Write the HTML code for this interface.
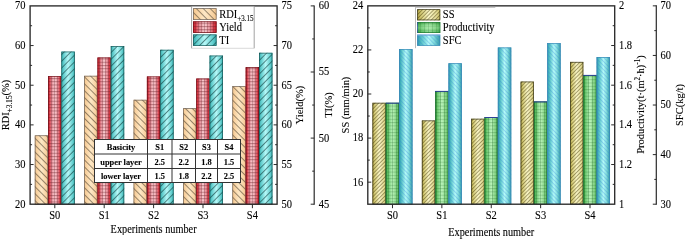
<!DOCTYPE html>
<html><head><meta charset="utf-8"><style>
html,body{margin:0;padding:0;background:#fff;width:685px;height:240px;overflow:hidden;}
svg{will-change:transform;display:block;font-family:"Liberation Serif",serif;}
text{stroke:#000;stroke-width:0.1px;}
</style></head><body>
<svg xmlns="http://www.w3.org/2000/svg" width="685" height="240" viewBox="0 0 685 240" font-family='"Liberation Serif", serif' fill="#000">
<defs>
 <linearGradient id="gO" x1="0" x2="1" y1="0" y2="0">
  <stop offset="0" stop-color="#f4c48a"/><stop offset="0.2" stop-color="#f9d4a4"/><stop offset="0.5" stop-color="#fde8c6"/><stop offset="0.8" stop-color="#f9d6a8"/><stop offset="1" stop-color="#f4c48a"/>
 </linearGradient>
 <linearGradient id="gR" x1="0" x2="1" y1="0" y2="0">
  <stop offset="0" stop-color="#cc1e2a"/><stop offset="0.1" stop-color="#da3844"/><stop offset="0.26" stop-color="#e8909a"/><stop offset="0.5" stop-color="#f8ccd0"/><stop offset="0.74" stop-color="#e8909a"/><stop offset="0.9" stop-color="#da3844"/><stop offset="1" stop-color="#cc1e2a"/>
 </linearGradient>
 <linearGradient id="gC" x1="0" x2="1" y1="0" y2="0">
  <stop offset="0" stop-color="#30a8a8"/><stop offset="0.15" stop-color="#5ccaca"/><stop offset="0.5" stop-color="#b6f8f8"/><stop offset="0.85" stop-color="#62cece"/><stop offset="1" stop-color="#30a8a8"/>
 </linearGradient>
 <linearGradient id="gY" x1="0" x2="1" y1="0" y2="0">
  <stop offset="0" stop-color="#a89a38"/><stop offset="0.15" stop-color="#d2c872"/><stop offset="0.5" stop-color="#f8f4c6"/><stop offset="0.85" stop-color="#e2da94"/><stop offset="1" stop-color="#c4b85c"/>
 </linearGradient>
 <linearGradient id="gG" x1="0" x2="1" y1="0" y2="0">
  <stop offset="0" stop-color="#24962e"/><stop offset="0.16" stop-color="#6cc870"/><stop offset="0.5" stop-color="#bcf4bc"/><stop offset="0.84" stop-color="#80d080"/><stop offset="1" stop-color="#3aa048"/>
 </linearGradient>
 <linearGradient id="gB" x1="0" x2="1" y1="0" y2="0">
  <stop offset="0" stop-color="#2a8aac"/><stop offset="0.1" stop-color="#40b0b8"/><stop offset="0.3" stop-color="#78d8d8"/><stop offset="0.5" stop-color="#b4fafa"/><stop offset="0.72" stop-color="#86dede"/><stop offset="0.9" stop-color="#4cb0b8"/><stop offset="1" stop-color="#3898aa"/>
 </linearGradient>
 <linearGradient id="gGv" x1="0" x2="0" y1="0" y2="1">
  <stop offset="0" stop-color="#1c8e2a"/><stop offset="0.5" stop-color="#a8eca8"/><stop offset="1" stop-color="#1c8e2a"/>
 </linearGradient>
 <pattern id="hO" patternUnits="userSpaceOnUse" width="4.9" height="10" patternTransform="rotate(-45)">
  <rect x="0" y="0" width="0.7" height="10" fill="#4a3c2c" fill-opacity="0.8"/>
 </pattern>
 <pattern id="hC" patternUnits="userSpaceOnUse" width="4.8" height="10" patternTransform="rotate(45)">
  <rect x="0" y="0" width="0.7" height="10" fill="#0c3434" fill-opacity="0.8"/>
 </pattern>
 <pattern id="hR" patternUnits="userSpaceOnUse" width="3" height="3.25">
  <rect x="0" y="0" width="0.9" height="3.25" fill="#702028" fill-opacity="0.34"/>
  <rect x="0" y="0" width="3" height="1" fill="#702028" fill-opacity="0.44"/>
 </pattern>
 <pattern id="hY" patternUnits="userSpaceOnUse" width="2.7" height="10" patternTransform="rotate(45)">
  <rect x="0" y="0" width="0.7" height="10" fill="#3a3000" fill-opacity="0.58"/>
 </pattern>
 <pattern id="hG" patternUnits="userSpaceOnUse" width="4" height="3.3">
  <rect x="0" y="0" width="1" height="3.3" fill="#0c5814" fill-opacity="0.26"/>
  <rect x="0" y="0" width="4" height="1" fill="#0c5814" fill-opacity="0.22"/>
 </pattern>
 <pattern id="hB" patternUnits="userSpaceOnUse" width="2.9" height="10" patternTransform="rotate(-45)">
  <rect x="0" y="0" width="0.75" height="10" fill="#3080d8" fill-opacity="0.4"/>
 </pattern>
</defs>
<rect x="34.80" y="135.40" width="13.30" height="68.80" fill="url(#gO)"/><rect x="34.80" y="135.40" width="13.30" height="68.80" fill="url(#hO)"/><rect x="35.15" y="135.75" width="12.60" height="68.45" fill="none" stroke="#6a6058" stroke-width="0.7"/>
<rect x="48.10" y="76.20" width="13.30" height="128.00" fill="url(#gR)"/><rect x="48.10" y="76.20" width="13.30" height="128.00" fill="url(#hR)"/><rect x="48.45" y="76.55" width="12.60" height="127.65" fill="none" stroke="#701018" stroke-width="0.7"/>
<rect x="61.40" y="51.60" width="13.40" height="152.60" fill="url(#gC)"/><rect x="61.40" y="51.60" width="13.40" height="152.60" fill="url(#hC)"/><rect x="61.75" y="51.95" width="12.70" height="152.25" fill="none" stroke="#1a5a5a" stroke-width="0.7"/>
<rect x="84.20" y="75.80" width="13.30" height="128.40" fill="url(#gO)"/><rect x="84.20" y="75.80" width="13.30" height="128.40" fill="url(#hO)"/><rect x="84.55" y="76.15" width="12.60" height="128.05" fill="none" stroke="#6a6058" stroke-width="0.7"/>
<rect x="97.50" y="57.50" width="13.30" height="146.70" fill="url(#gR)"/><rect x="97.50" y="57.50" width="13.30" height="146.70" fill="url(#hR)"/><rect x="97.85" y="57.85" width="12.60" height="146.35" fill="none" stroke="#701018" stroke-width="0.7"/>
<rect x="110.80" y="46.10" width="13.40" height="158.10" fill="url(#gC)"/><rect x="110.80" y="46.10" width="13.40" height="158.10" fill="url(#hC)"/><rect x="111.15" y="46.45" width="12.70" height="157.75" fill="none" stroke="#1a5a5a" stroke-width="0.7"/>
<rect x="133.60" y="99.80" width="13.30" height="104.40" fill="url(#gO)"/><rect x="133.60" y="99.80" width="13.30" height="104.40" fill="url(#hO)"/><rect x="133.95" y="100.15" width="12.60" height="104.05" fill="none" stroke="#6a6058" stroke-width="0.7"/>
<rect x="146.90" y="76.50" width="13.30" height="127.70" fill="url(#gR)"/><rect x="146.90" y="76.50" width="13.30" height="127.70" fill="url(#hR)"/><rect x="147.25" y="76.85" width="12.60" height="127.35" fill="none" stroke="#701018" stroke-width="0.7"/>
<rect x="160.20" y="49.80" width="13.40" height="154.40" fill="url(#gC)"/><rect x="160.20" y="49.80" width="13.40" height="154.40" fill="url(#hC)"/><rect x="160.55" y="50.15" width="12.70" height="154.05" fill="none" stroke="#1a5a5a" stroke-width="0.7"/>
<rect x="183.00" y="108.30" width="13.30" height="95.90" fill="url(#gO)"/><rect x="183.00" y="108.30" width="13.30" height="95.90" fill="url(#hO)"/><rect x="183.35" y="108.65" width="12.60" height="95.55" fill="none" stroke="#6a6058" stroke-width="0.7"/>
<rect x="196.30" y="78.60" width="13.30" height="125.60" fill="url(#gR)"/><rect x="196.30" y="78.60" width="13.30" height="125.60" fill="url(#hR)"/><rect x="196.65" y="78.95" width="12.60" height="125.25" fill="none" stroke="#701018" stroke-width="0.7"/>
<rect x="209.60" y="55.60" width="13.40" height="148.60" fill="url(#gC)"/><rect x="209.60" y="55.60" width="13.40" height="148.60" fill="url(#hC)"/><rect x="209.95" y="55.95" width="12.70" height="148.25" fill="none" stroke="#1a5a5a" stroke-width="0.7"/>
<rect x="232.40" y="86.20" width="13.30" height="118.00" fill="url(#gO)"/><rect x="232.40" y="86.20" width="13.30" height="118.00" fill="url(#hO)"/><rect x="232.75" y="86.55" width="12.60" height="117.65" fill="none" stroke="#6a6058" stroke-width="0.7"/>
<rect x="245.70" y="67.20" width="13.30" height="137.00" fill="url(#gR)"/><rect x="245.70" y="67.20" width="13.30" height="137.00" fill="url(#hR)"/><rect x="246.05" y="67.55" width="12.60" height="136.65" fill="none" stroke="#701018" stroke-width="0.7"/>
<rect x="259.00" y="52.80" width="13.40" height="151.40" fill="url(#gC)"/><rect x="259.00" y="52.80" width="13.40" height="151.40" fill="url(#hC)"/><rect x="259.35" y="53.15" width="12.70" height="151.05" fill="none" stroke="#1a5a5a" stroke-width="0.7"/>
<rect x="94.5" y="139.5" width="146.0" height="43.0" fill="#fff" stroke="#333" stroke-width="1"/>
<line x1="147.5" y1="139.5" x2="147.5" y2="182.5" stroke="#333" stroke-width="1"/>
<line x1="172.0" y1="139.5" x2="172.0" y2="182.5" stroke="#333" stroke-width="1"/>
<line x1="195.5" y1="139.5" x2="195.5" y2="182.5" stroke="#333" stroke-width="1"/>
<line x1="217.5" y1="139.5" x2="217.5" y2="182.5" stroke="#333" stroke-width="1"/>
<line x1="94.5" y1="154.0" x2="240.5" y2="154.0" stroke="#333" stroke-width="1"/>
<line x1="94.5" y1="168.5" x2="240.5" y2="168.5" stroke="#333" stroke-width="1"/>
<text transform="translate(121.00,150.25) scale(1,1.0)" font-size="8.4" text-anchor="middle" font-weight="bold" >Basicity</text>
<text transform="translate(159.75,150.25) scale(1,1.0)" font-size="8.4" text-anchor="middle" font-weight="bold" >S1</text>
<text transform="translate(183.75,150.25) scale(1,1.0)" font-size="8.4" text-anchor="middle" font-weight="bold" >S2</text>
<text transform="translate(206.50,150.25) scale(1,1.0)" font-size="8.4" text-anchor="middle" font-weight="bold" >S3</text>
<text transform="translate(229.00,150.25) scale(1,1.0)" font-size="8.4" text-anchor="middle" font-weight="bold" >S4</text>
<text transform="translate(121.00,164.75) scale(1,1.0)" font-size="8.4" text-anchor="middle" font-weight="bold" >upper layer</text>
<text transform="translate(159.75,164.75) scale(1,1.0)" font-size="8.4" text-anchor="middle" font-weight="bold" >2.5</text>
<text transform="translate(183.75,164.75) scale(1,1.0)" font-size="8.4" text-anchor="middle" font-weight="bold" >2.2</text>
<text transform="translate(206.50,164.75) scale(1,1.0)" font-size="8.4" text-anchor="middle" font-weight="bold" >1.8</text>
<text transform="translate(229.00,164.75) scale(1,1.0)" font-size="8.4" text-anchor="middle" font-weight="bold" >1.5</text>
<text transform="translate(121.00,179.00) scale(1,1.0)" font-size="8.4" text-anchor="middle" font-weight="bold" >lower layer</text>
<text transform="translate(159.75,179.00) scale(1,1.0)" font-size="8.4" text-anchor="middle" font-weight="bold" >1.5</text>
<text transform="translate(183.75,179.00) scale(1,1.0)" font-size="8.4" text-anchor="middle" font-weight="bold" >1.8</text>
<text transform="translate(206.50,179.00) scale(1,1.0)" font-size="8.4" text-anchor="middle" font-weight="bold" >2.2</text>
<text transform="translate(229.00,179.00) scale(1,1.0)" font-size="8.4" text-anchor="middle" font-weight="bold" >2.5</text>
<rect x="30.1" y="5.9" width="247.00000000000003" height="198.29999999999998" fill="none" stroke="#2a2a2a" stroke-width="1.35"/>
<rect x="191.5" y="6.65" width="62.8" height="41.65" fill="#fff"/>
<path d="M191.6 6.65 V48.3 M254.2 48.3 V6.65" fill="none" stroke="#8a8a8a" stroke-width="0.8"/>
<line x1="191.6" y1="48.3" x2="254.2" y2="48.3" stroke="#d0d0d0" stroke-width="0.8"/>
<rect x="193" y="8.3" width="23.5" height="11.4" fill="url(#gO)"/>
<rect x="193" y="8.3" width="23.5" height="11.4" fill="url(#hO)"/>
<rect x="193.35" y="8.65" width="22.8" height="10.7" fill="none" stroke="#6a6058" stroke-width="0.7"/>
<text transform="translate(219.30,17.60) scale(1,1.12)" font-size="10.5" text-anchor="start" font-weight="normal" >RDI<tspan font-size="7" dy="2.6">+3.15</tspan></text>
<rect x="193" y="21.4" width="23.5" height="11.4" fill="url(#gR)"/>
<rect x="193" y="21.4" width="23.5" height="11.4" fill="url(#hR)"/>
<rect x="193.35" y="21.75" width="22.8" height="10.7" fill="none" stroke="#701018" stroke-width="0.7"/>
<text transform="translate(219.30,30.70) scale(1,1.12)" font-size="10.5" text-anchor="start" font-weight="normal" >Yield</text>
<rect x="193" y="34.5" width="23.5" height="11.4" fill="url(#gC)"/>
<rect x="193" y="34.5" width="23.5" height="11.4" fill="url(#hC)"/>
<rect x="193.35" y="34.85" width="22.8" height="10.7" fill="none" stroke="#1a5a5a" stroke-width="0.7"/>
<text transform="translate(219.30,43.80) scale(1,1.12)" font-size="10.5" text-anchor="start" font-weight="normal" >TI</text>
<text transform="translate(25.60,207.60) scale(1,1.12)" font-size="10.5" text-anchor="end" font-weight="normal" >20</text>
<line x1="30.1" y1="184.37" x2="32.1" y2="184.37" stroke="#2a2a2a" stroke-width="1"/>
<line x1="30.1" y1="164.54" x2="33.6" y2="164.54" stroke="#2a2a2a" stroke-width="1"/>
<text transform="translate(25.60,167.94) scale(1,1.12)" font-size="10.5" text-anchor="end" font-weight="normal" >30</text>
<line x1="30.1" y1="144.71" x2="32.1" y2="144.71" stroke="#2a2a2a" stroke-width="1"/>
<line x1="30.1" y1="124.88" x2="33.6" y2="124.88" stroke="#2a2a2a" stroke-width="1"/>
<text transform="translate(25.60,128.28) scale(1,1.12)" font-size="10.5" text-anchor="end" font-weight="normal" >40</text>
<line x1="30.1" y1="105.05" x2="32.1" y2="105.05" stroke="#2a2a2a" stroke-width="1"/>
<line x1="30.1" y1="85.22" x2="33.6" y2="85.22" stroke="#2a2a2a" stroke-width="1"/>
<text transform="translate(25.60,88.62) scale(1,1.12)" font-size="10.5" text-anchor="end" font-weight="normal" >50</text>
<line x1="30.1" y1="65.39" x2="32.1" y2="65.39" stroke="#2a2a2a" stroke-width="1"/>
<line x1="30.1" y1="45.56" x2="33.6" y2="45.56" stroke="#2a2a2a" stroke-width="1"/>
<text transform="translate(25.60,48.96) scale(1,1.12)" font-size="10.5" text-anchor="end" font-weight="normal" >60</text>
<line x1="30.1" y1="25.73" x2="32.1" y2="25.73" stroke="#2a2a2a" stroke-width="1"/>
<text transform="translate(25.60,9.30) scale(1,1.12)" font-size="10.5" text-anchor="end" font-weight="normal" >70</text>
<text transform="translate(281.40,207.60) scale(1,1.12)" font-size="10.5" text-anchor="start" font-weight="normal" >50</text>
<line x1="275.1" y1="184.37" x2="277.1" y2="184.37" stroke="#2a2a2a" stroke-width="1"/>
<line x1="273.6" y1="164.54" x2="277.1" y2="164.54" stroke="#2a2a2a" stroke-width="1"/>
<text transform="translate(281.40,167.94) scale(1,1.12)" font-size="10.5" text-anchor="start" font-weight="normal" >55</text>
<line x1="275.1" y1="144.71" x2="277.1" y2="144.71" stroke="#2a2a2a" stroke-width="1"/>
<line x1="273.6" y1="124.88" x2="277.1" y2="124.88" stroke="#2a2a2a" stroke-width="1"/>
<text transform="translate(281.40,128.28) scale(1,1.12)" font-size="10.5" text-anchor="start" font-weight="normal" >60</text>
<line x1="275.1" y1="105.05" x2="277.1" y2="105.05" stroke="#2a2a2a" stroke-width="1"/>
<line x1="273.6" y1="85.22" x2="277.1" y2="85.22" stroke="#2a2a2a" stroke-width="1"/>
<text transform="translate(281.40,88.62) scale(1,1.12)" font-size="10.5" text-anchor="start" font-weight="normal" >65</text>
<line x1="275.1" y1="65.39" x2="277.1" y2="65.39" stroke="#2a2a2a" stroke-width="1"/>
<line x1="273.6" y1="45.56" x2="277.1" y2="45.56" stroke="#2a2a2a" stroke-width="1"/>
<text transform="translate(281.40,48.96) scale(1,1.12)" font-size="10.5" text-anchor="start" font-weight="normal" >70</text>
<line x1="275.1" y1="25.73" x2="277.1" y2="25.73" stroke="#2a2a2a" stroke-width="1"/>
<text transform="translate(281.40,9.30) scale(1,1.12)" font-size="10.5" text-anchor="start" font-weight="normal" >75</text>
<line x1="314.2" y1="5.4" x2="314.2" y2="204.7" stroke="#2a2a2a" stroke-width="1.2"/>
<line x1="310.7" y1="204.20" x2="314.2" y2="204.20" stroke="#2a2a2a" stroke-width="1"/>
<text transform="translate(318.80,207.60) scale(1,1.12)" font-size="10.5" text-anchor="start" font-weight="normal" >45</text>
<line x1="312.2" y1="171.15" x2="314.2" y2="171.15" stroke="#2a2a2a" stroke-width="1"/>
<line x1="310.7" y1="138.10" x2="314.2" y2="138.10" stroke="#2a2a2a" stroke-width="1"/>
<text transform="translate(318.80,141.50) scale(1,1.12)" font-size="10.5" text-anchor="start" font-weight="normal" >50</text>
<line x1="312.2" y1="105.05" x2="314.2" y2="105.05" stroke="#2a2a2a" stroke-width="1"/>
<line x1="310.7" y1="72.00" x2="314.2" y2="72.00" stroke="#2a2a2a" stroke-width="1"/>
<text transform="translate(318.80,75.40) scale(1,1.12)" font-size="10.5" text-anchor="start" font-weight="normal" >55</text>
<line x1="312.2" y1="38.95" x2="314.2" y2="38.95" stroke="#2a2a2a" stroke-width="1"/>
<line x1="310.7" y1="5.90" x2="314.2" y2="5.90" stroke="#2a2a2a" stroke-width="1"/>
<text transform="translate(318.80,9.30) scale(1,1.12)" font-size="10.5" text-anchor="start" font-weight="normal" >60</text>
<line x1="54.80" y1="204.2" x2="54.80" y2="208.2" stroke="#2a2a2a" stroke-width="1"/>
<text transform="translate(54.80,219.40) scale(1,1.12)" font-size="10.5" text-anchor="middle" font-weight="normal" >S0</text>
<line x1="104.20" y1="204.2" x2="104.20" y2="208.2" stroke="#2a2a2a" stroke-width="1"/>
<text transform="translate(104.20,219.40) scale(1,1.12)" font-size="10.5" text-anchor="middle" font-weight="normal" >S1</text>
<line x1="153.60" y1="204.2" x2="153.60" y2="208.2" stroke="#2a2a2a" stroke-width="1"/>
<text transform="translate(153.60,219.40) scale(1,1.12)" font-size="10.5" text-anchor="middle" font-weight="normal" >S2</text>
<line x1="203.00" y1="204.2" x2="203.00" y2="208.2" stroke="#2a2a2a" stroke-width="1"/>
<text transform="translate(203.00,219.40) scale(1,1.12)" font-size="10.5" text-anchor="middle" font-weight="normal" >S3</text>
<line x1="252.40" y1="204.2" x2="252.40" y2="208.2" stroke="#2a2a2a" stroke-width="1"/>
<text transform="translate(252.40,219.40) scale(1,1.12)" font-size="10.5" text-anchor="middle" font-weight="normal" >S4</text>
<text transform="translate(153.60,232.70) scale(1,1.12)" font-size="10.3" text-anchor="middle" font-weight="normal" >Experiments number</text>
<text transform="translate(9.2,105.05) rotate(-90) scale(1,1.06)" font-size="10.5" text-anchor="middle">RDI<tspan font-size="7.3" dy="2.8">+3.15</tspan><tspan dy="-2.8">(%)</tspan></text>
<text transform="translate(303,105.05) rotate(-90) scale(1,1.06)" font-size="10.5" text-anchor="middle">Yield(%)</text>
<text transform="translate(332.3,105.05) rotate(-90) scale(1,1.06)" font-size="10.5" text-anchor="middle">TI(%)</text>
<rect x="372.49" y="102.80" width="13.30" height="101.40" fill="url(#gY)"/><rect x="372.49" y="102.80" width="13.30" height="101.40" fill="url(#hY)"/><rect x="372.84" y="103.15" width="12.60" height="101.05" fill="none" stroke="#3a3820" stroke-width="0.7"/>
<rect x="385.79" y="102.80" width="13.30" height="101.40" fill="url(#gG)"/><rect x="385.79" y="102.80" width="13.30" height="101.40" fill="url(#hG)"/><rect x="386.14" y="103.15" width="12.60" height="101.05" fill="none" stroke="#1e6a34" stroke-width="0.7"/>
<line x1="385.79" y1="103.20" x2="399.09" y2="103.20" stroke="#2a3aa0" stroke-width="0.9"/>
<rect x="399.09" y="49.10" width="13.40" height="155.10" fill="url(#gB)"/><rect x="399.09" y="49.10" width="13.40" height="155.10" fill="url(#hB)"/><rect x="399.44" y="49.45" width="12.70" height="154.75" fill="none" stroke="#3a8ab8" stroke-width="0.7"/>
<rect x="421.87" y="120.50" width="13.30" height="83.70" fill="url(#gY)"/><rect x="421.87" y="120.50" width="13.30" height="83.70" fill="url(#hY)"/><rect x="422.22" y="120.85" width="12.60" height="83.35" fill="none" stroke="#3a3820" stroke-width="0.7"/>
<rect x="435.17" y="91.00" width="13.30" height="113.20" fill="url(#gG)"/><rect x="435.17" y="91.00" width="13.30" height="113.20" fill="url(#hG)"/><rect x="435.52" y="91.35" width="12.60" height="112.85" fill="none" stroke="#1e6a34" stroke-width="0.7"/>
<line x1="435.17" y1="91.40" x2="448.47" y2="91.40" stroke="#2a3aa0" stroke-width="0.9"/>
<rect x="448.47" y="63.30" width="13.40" height="140.90" fill="url(#gB)"/><rect x="448.47" y="63.30" width="13.40" height="140.90" fill="url(#hB)"/><rect x="448.82" y="63.65" width="12.70" height="140.55" fill="none" stroke="#3a8ab8" stroke-width="0.7"/>
<rect x="471.25" y="118.75" width="13.30" height="85.45" fill="url(#gY)"/><rect x="471.25" y="118.75" width="13.30" height="85.45" fill="url(#hY)"/><rect x="471.60" y="119.10" width="12.60" height="85.10" fill="none" stroke="#3a3820" stroke-width="0.7"/>
<rect x="484.55" y="117.10" width="13.30" height="87.10" fill="url(#gG)"/><rect x="484.55" y="117.10" width="13.30" height="87.10" fill="url(#hG)"/><rect x="484.90" y="117.45" width="12.60" height="86.75" fill="none" stroke="#1e6a34" stroke-width="0.7"/>
<line x1="484.55" y1="117.50" x2="497.85" y2="117.50" stroke="#2a3aa0" stroke-width="0.9"/>
<rect x="497.85" y="47.50" width="13.40" height="156.70" fill="url(#gB)"/><rect x="497.85" y="47.50" width="13.40" height="156.70" fill="url(#hB)"/><rect x="498.20" y="47.85" width="12.70" height="156.35" fill="none" stroke="#3a8ab8" stroke-width="0.7"/>
<rect x="520.63" y="81.60" width="13.30" height="122.60" fill="url(#gY)"/><rect x="520.63" y="81.60" width="13.30" height="122.60" fill="url(#hY)"/><rect x="520.98" y="81.95" width="12.60" height="122.25" fill="none" stroke="#3a3820" stroke-width="0.7"/>
<rect x="533.93" y="101.50" width="13.30" height="102.70" fill="url(#gG)"/><rect x="533.93" y="101.50" width="13.30" height="102.70" fill="url(#hG)"/><rect x="534.28" y="101.85" width="12.60" height="102.35" fill="none" stroke="#1e6a34" stroke-width="0.7"/>
<line x1="533.93" y1="101.90" x2="547.23" y2="101.90" stroke="#2a3aa0" stroke-width="0.9"/>
<rect x="547.23" y="43.20" width="13.40" height="161.00" fill="url(#gB)"/><rect x="547.23" y="43.20" width="13.40" height="161.00" fill="url(#hB)"/><rect x="547.58" y="43.55" width="12.70" height="160.65" fill="none" stroke="#3a8ab8" stroke-width="0.7"/>
<rect x="570.01" y="61.90" width="13.30" height="142.30" fill="url(#gY)"/><rect x="570.01" y="61.90" width="13.30" height="142.30" fill="url(#hY)"/><rect x="570.36" y="62.25" width="12.60" height="141.95" fill="none" stroke="#3a3820" stroke-width="0.7"/>
<rect x="583.31" y="75.00" width="13.30" height="129.20" fill="url(#gG)"/><rect x="583.31" y="75.00" width="13.30" height="129.20" fill="url(#hG)"/><rect x="583.66" y="75.35" width="12.60" height="128.85" fill="none" stroke="#1e6a34" stroke-width="0.7"/>
<line x1="583.31" y1="75.40" x2="596.61" y2="75.40" stroke="#2a3aa0" stroke-width="0.9"/>
<rect x="596.61" y="57.00" width="13.40" height="147.20" fill="url(#gB)"/><rect x="596.61" y="57.00" width="13.40" height="147.20" fill="url(#hB)"/><rect x="596.96" y="57.35" width="12.70" height="146.85" fill="none" stroke="#3a8ab8" stroke-width="0.7"/>
<rect x="367.8" y="5.85" width="246.90000000000003" height="198.35" fill="none" stroke="#2a2a2a" stroke-width="1.35"/>
<rect x="415.3" y="7.3" width="80" height="40.5" fill="#fff"/>
<path d="M415.5 48.2 V7.3 H495.3" fill="none" stroke="#a8a8a8" stroke-width="0.8"/>
<rect x="417.2" y="9.3" width="23" height="11" fill="url(#gY)"/>
<rect x="417.2" y="9.3" width="23" height="11" fill="url(#hY)"/>
<rect x="417.55" y="9.65" width="22.3" height="10.3" fill="none" stroke="#3a3820" stroke-width="0.7"/>
<text transform="translate(442.80,18.40) scale(1,1.12)" font-size="10.5" text-anchor="start" font-weight="normal" >SS</text>
<rect x="417.2" y="22.0" width="23" height="11" fill="url(#gG)"/>
<rect x="417.2" y="22.0" width="23" height="11" fill="url(#hG)"/>
<rect x="417.55" y="22.35" width="22.3" height="10.3" fill="none" stroke="#1e6a34" stroke-width="0.7"/>
<line x1="417.6" y1="22.0" x2="417.6" y2="33.0" stroke="#2a40c0" stroke-width="0.9"/>
<rect x="417.2" y="22.0" width="23" height="11" fill="url(#gGv)" fill-opacity="0.35"/>
<text transform="translate(442.80,31.10) scale(1,1.12)" font-size="10.5" text-anchor="start" font-weight="normal" >Productivity</text>
<rect x="417.2" y="34.7" width="23" height="11" fill="url(#gB)"/>
<rect x="417.2" y="34.7" width="23" height="11" fill="url(#hB)"/>
<rect x="417.55" y="35.050000000000004" width="22.3" height="10.3" fill="none" stroke="#3a8ab8" stroke-width="0.7"/>
<line x1="417.2" y1="35.0" x2="440.2" y2="35.0" stroke="#9ab8f0" stroke-width="0.8"/>
<text transform="translate(442.80,43.80) scale(1,1.12)" font-size="10.5" text-anchor="start" font-weight="normal" >SFC</text>
<line x1="367.8" y1="182.16" x2="371.3" y2="182.16" stroke="#2a2a2a" stroke-width="1"/>
<text transform="translate(363.30,185.56) scale(1,1.12)" font-size="10.5" text-anchor="end" font-weight="normal" >16</text>
<line x1="367.8" y1="160.12" x2="369.8" y2="160.12" stroke="#2a2a2a" stroke-width="1"/>
<line x1="367.8" y1="138.08" x2="371.3" y2="138.08" stroke="#2a2a2a" stroke-width="1"/>
<text transform="translate(363.30,141.48) scale(1,1.12)" font-size="10.5" text-anchor="end" font-weight="normal" >18</text>
<line x1="367.8" y1="116.04" x2="369.8" y2="116.04" stroke="#2a2a2a" stroke-width="1"/>
<line x1="367.8" y1="94.01" x2="371.3" y2="94.01" stroke="#2a2a2a" stroke-width="1"/>
<text transform="translate(363.30,97.41) scale(1,1.12)" font-size="10.5" text-anchor="end" font-weight="normal" >20</text>
<line x1="367.8" y1="71.97" x2="369.8" y2="71.97" stroke="#2a2a2a" stroke-width="1"/>
<line x1="367.8" y1="49.93" x2="371.3" y2="49.93" stroke="#2a2a2a" stroke-width="1"/>
<text transform="translate(363.30,53.33) scale(1,1.12)" font-size="10.5" text-anchor="end" font-weight="normal" >22</text>
<line x1="367.8" y1="27.89" x2="369.8" y2="27.89" stroke="#2a2a2a" stroke-width="1"/>
<text transform="translate(363.30,9.25) scale(1,1.12)" font-size="10.5" text-anchor="end" font-weight="normal" >24</text>
<text transform="translate(619.00,207.60) scale(1,1.12)" font-size="10.5" text-anchor="start" font-weight="normal" >1</text>
<line x1="612.7" y1="184.36" x2="614.7" y2="184.36" stroke="#2a2a2a" stroke-width="1"/>
<line x1="611.2" y1="164.53" x2="614.7" y2="164.53" stroke="#2a2a2a" stroke-width="1"/>
<text transform="translate(619.00,167.93) scale(1,1.12)" font-size="10.5" text-anchor="start" font-weight="normal" >1.2</text>
<line x1="612.7" y1="144.69" x2="614.7" y2="144.69" stroke="#2a2a2a" stroke-width="1"/>
<line x1="611.2" y1="124.86" x2="614.7" y2="124.86" stroke="#2a2a2a" stroke-width="1"/>
<text transform="translate(619.00,128.26) scale(1,1.12)" font-size="10.5" text-anchor="start" font-weight="normal" >1.4</text>
<line x1="612.7" y1="105.02" x2="614.7" y2="105.02" stroke="#2a2a2a" stroke-width="1"/>
<line x1="611.2" y1="85.19" x2="614.7" y2="85.19" stroke="#2a2a2a" stroke-width="1"/>
<text transform="translate(619.00,88.59) scale(1,1.12)" font-size="10.5" text-anchor="start" font-weight="normal" >1.6</text>
<line x1="612.7" y1="65.35" x2="614.7" y2="65.35" stroke="#2a2a2a" stroke-width="1"/>
<line x1="611.2" y1="45.52" x2="614.7" y2="45.52" stroke="#2a2a2a" stroke-width="1"/>
<text transform="translate(619.00,48.92) scale(1,1.12)" font-size="10.5" text-anchor="start" font-weight="normal" >1.8</text>
<line x1="612.7" y1="25.69" x2="614.7" y2="25.69" stroke="#2a2a2a" stroke-width="1"/>
<text transform="translate(619.00,9.25) scale(1,1.12)" font-size="10.5" text-anchor="start" font-weight="normal" >2</text>
<line x1="656.3" y1="5.35" x2="656.3" y2="204.7" stroke="#2a2a2a" stroke-width="1.2"/>
<line x1="652.8" y1="204.20" x2="656.3" y2="204.20" stroke="#2a2a2a" stroke-width="1"/>
<text transform="translate(660.60,207.60) scale(1,1.12)" font-size="10.5" text-anchor="start" font-weight="normal" >30</text>
<line x1="654.3" y1="179.41" x2="656.3" y2="179.41" stroke="#2a2a2a" stroke-width="1"/>
<line x1="652.8" y1="154.61" x2="656.3" y2="154.61" stroke="#2a2a2a" stroke-width="1"/>
<text transform="translate(660.60,158.01) scale(1,1.12)" font-size="10.5" text-anchor="start" font-weight="normal" >40</text>
<line x1="654.3" y1="129.82" x2="656.3" y2="129.82" stroke="#2a2a2a" stroke-width="1"/>
<line x1="652.8" y1="105.02" x2="656.3" y2="105.02" stroke="#2a2a2a" stroke-width="1"/>
<text transform="translate(660.60,108.42) scale(1,1.12)" font-size="10.5" text-anchor="start" font-weight="normal" >50</text>
<line x1="654.3" y1="80.23" x2="656.3" y2="80.23" stroke="#2a2a2a" stroke-width="1"/>
<line x1="652.8" y1="55.44" x2="656.3" y2="55.44" stroke="#2a2a2a" stroke-width="1"/>
<text transform="translate(660.60,58.84) scale(1,1.12)" font-size="10.5" text-anchor="start" font-weight="normal" >60</text>
<line x1="654.3" y1="30.64" x2="656.3" y2="30.64" stroke="#2a2a2a" stroke-width="1"/>
<line x1="652.8" y1="5.85" x2="656.3" y2="5.85" stroke="#2a2a2a" stroke-width="1"/>
<text transform="translate(660.60,9.25) scale(1,1.12)" font-size="10.5" text-anchor="start" font-weight="normal" >70</text>
<line x1="392.49" y1="204.2" x2="392.49" y2="208.2" stroke="#2a2a2a" stroke-width="1"/>
<text transform="translate(392.49,219.40) scale(1,1.12)" font-size="10.5" text-anchor="middle" font-weight="normal" >S0</text>
<line x1="441.87" y1="204.2" x2="441.87" y2="208.2" stroke="#2a2a2a" stroke-width="1"/>
<text transform="translate(441.87,219.40) scale(1,1.12)" font-size="10.5" text-anchor="middle" font-weight="normal" >S1</text>
<line x1="491.25" y1="204.2" x2="491.25" y2="208.2" stroke="#2a2a2a" stroke-width="1"/>
<text transform="translate(491.25,219.40) scale(1,1.12)" font-size="10.5" text-anchor="middle" font-weight="normal" >S2</text>
<line x1="540.63" y1="204.2" x2="540.63" y2="208.2" stroke="#2a2a2a" stroke-width="1"/>
<text transform="translate(540.63,219.40) scale(1,1.12)" font-size="10.5" text-anchor="middle" font-weight="normal" >S3</text>
<line x1="590.01" y1="204.2" x2="590.01" y2="208.2" stroke="#2a2a2a" stroke-width="1"/>
<text transform="translate(590.01,219.40) scale(1,1.12)" font-size="10.5" text-anchor="middle" font-weight="normal" >S4</text>
<text transform="translate(491.25,236.20) scale(1,1.12)" font-size="10.3" text-anchor="middle" font-weight="normal" >Experiments number</text>
<text transform="translate(349.3,105.02) rotate(-90) scale(1,1.06)" font-size="10.5" text-anchor="middle">SS (mm/min)</text>
<text transform="translate(644.0,104.52) rotate(-90) scale(1,1.06)" font-size="10.5" text-anchor="middle">Productivity(t·(m<tspan font-size="7" dy="-3.5">2</tspan><tspan dy="3.5">·h)</tspan><tspan font-size="7" dy="-3.5">-1</tspan><tspan dy="3.5">)</tspan></text>
<text transform="translate(682.6,105.02) rotate(-90) scale(1,1.06)" font-size="10.5" text-anchor="middle">SFC(kg/t)</text></svg>
</body></html>
